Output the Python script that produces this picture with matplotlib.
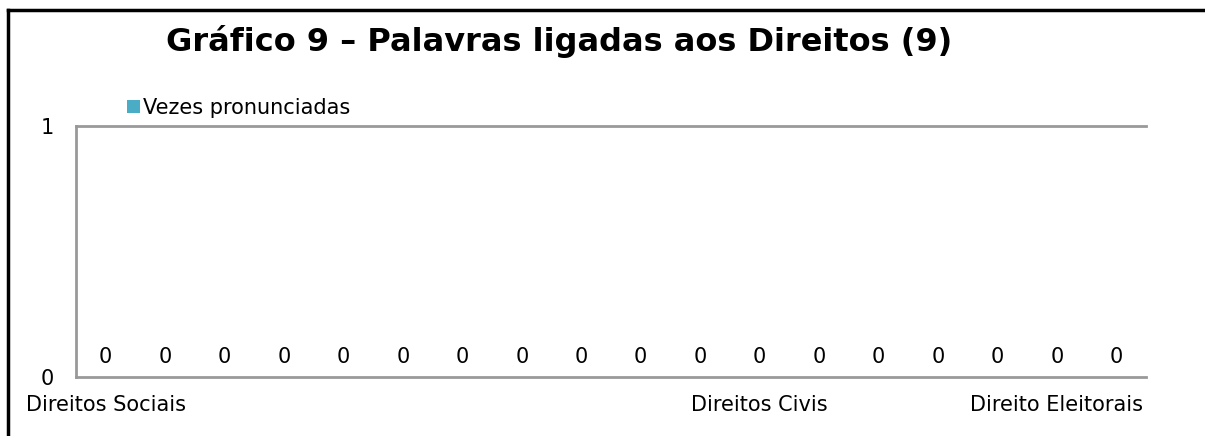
import numpy as np
import matplotlib.pyplot as plt
from matplotlib.lines import Line2D

categorias = ["Direitos Sociais", "", "", "", "", "", "", "", "", "", "",
              "Direitos Civis", "", "", "", "", "Direito Eleitorais", ""]
vezes = [0, 0, 0, 0, 0, 0, 0, 0, 0, 0, 0, 0, 0, 0, 0, 0, 0, 0]
y_ticks = [0, 1]

plt.rcParams['font.family'] = ['DejaVu Sans']

fig = plt.figure(figsize=(12.05, 4.36), dpi=100)
ax = fig.add_axes([0.063, 0.135, 0.888, 0.576])

x = np.arange(len(categorias))
bars = ax.bar(x, vezes, width=0.6, color='#4bacc6', label='Vezes pronunciadas')
ax.bar_label(bars, labels=[str(v) for v in vezes], padding=7, fontsize=15)

ax.set_xlim(-0.5, len(categorias) - 0.5)
ax.set_ylim(0, 1)
ax.set_yticks(y_ticks)
ax.set_yticklabels([str(t) for t in y_ticks], fontsize=15)
ax.set_xticks(x)
ax.set_xticklabels(categorias, fontsize=15)
ax.tick_params(axis='both', length=0)
ax.tick_params(axis='x', pad=13)
ax.tick_params(axis='y', pad=16)

for s in ['left', 'top', 'bottom']:
    ax.spines[s].set_color('#999999')
    ax.spines[s].set_linewidth(2)
ax.spines['right'].set_visible(False)

ax.legend(loc='lower left', bbox_to_anchor=(0.04, 1.0), frameon=False, fontsize=15,
          handlelength=0.6, handleheight=0.6, handletextpad=0.15, borderaxespad=0.0)

fig.text(0.464, 0.905, "Gráfico 9 – Palavras ligadas aos Direitos (9)",
         ha='center', va='center', fontsize=23, fontweight='bold')

# moldura do gráfico
fig.add_artist(Line2D([8 / 1205, 1], [1 - 10 / 436, 1 - 10 / 436], color='black', lw=2.5))
fig.add_artist(Line2D([8 / 1205, 8 / 1205], [0, 1 - 10 / 436], color='black', lw=2.5))

fig.savefig('out.png', dpi=100)
